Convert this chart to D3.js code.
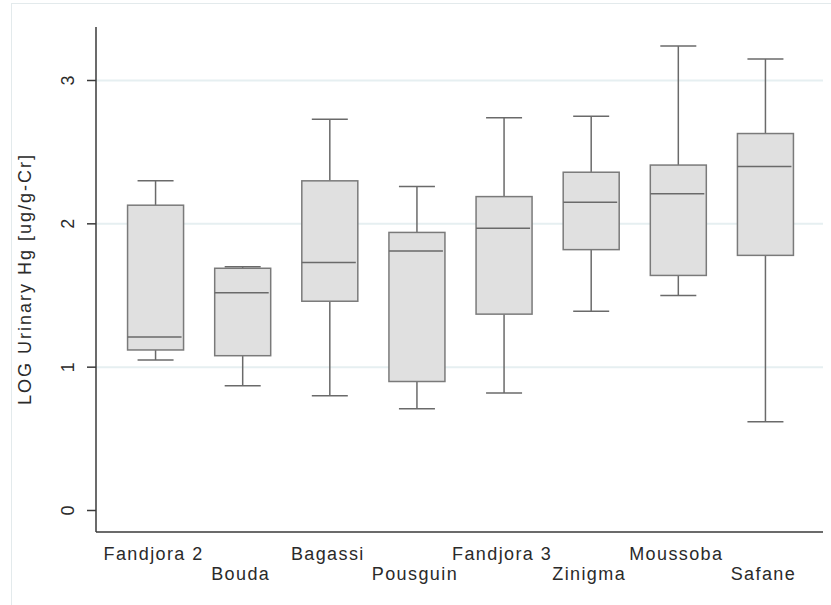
<!DOCTYPE html>
<html>
<head>
<meta charset="utf-8">
<script src="https://cdn.jsdelivr.net/npm/d3@7"></script>
<style>
  html, body { margin: 0; padding: 0; background: #fff; }
  svg { display: block; }
  text { font-family: "Liberation Sans", Arial, sans-serif; fill: #2a2a2a; }
</style>
</head>
<body>
<svg id="chart" width="831" height="605"></svg>
<script>
// ---- data ----
const categories = ["Fandjora 2", "Bouda", "Bagassi", "Pousguin", "Fandjora 3", "Zinigma", "Moussoba", "Safane"];
const whiskerLow  = [1.05, 0.87, 0.80, 0.71, 0.82, 1.39, 1.50, 0.62];
const q1          = [1.12, 1.08, 1.46, 0.90, 1.37, 1.82, 1.64, 1.78];
const median      = [1.21, 1.52, 1.73, 1.81, 1.97, 2.15, 2.21, 2.40];
const q3          = [2.13, 1.69, 2.30, 1.94, 2.19, 2.36, 2.41, 2.63];
const whiskerHigh = [2.30, 1.70, 2.73, 2.26, 2.74, 2.75, 3.24, 3.15];
const yTicks = [0, 1, 2, 3];
const yTitle = "LOG Urinary Hg [ug/g-Cr]";

(function () {
const rows = categories.map((c, i) => ({
  cat: c, lo: whiskerLow[i], q1: q1[i], med: median[i], q3: q3[i], hi: whiskerHigh[i], i
}));

const svg = d3.select("#chart");

// outer frame
svg.append("rect").attr("x", 11.5).attr("y", 3.5).attr("width", 840).attr("height", 620)
  .attr("fill", "none").attr("stroke", "#e3eaec").attr("stroke-width", 1);

const pLeft = 96, pRight = 823, pTop = 27, pBottom = 532;

const y = d3.scaleLinear().domain([0, 3]).range([510.5, 80.5]);
const x = d3.scaleBand().domain(categories).range([112, 809]).padding(0);
const boxW = 56, capW = 36;

// gridlines
svg.append("g").selectAll("line").data(yTicks.filter(t => t > 0)).join("line")
  .attr("x1", pLeft).attr("x2", pRight)
  .attr("y1", d => y(d)).attr("y2", d => y(d))
  .attr("stroke", "#e6eff1").attr("stroke-width", 2);

// boxes
const g = svg.append("g").selectAll("g").data(rows).join("g")
  .attr("transform", d => `translate(${x(d.cat) + x.bandwidth() / 2},0)`);

g.append("line").attr("x1", 0).attr("x2", 0)
  .attr("y1", d => y(d.q3)).attr("y2", d => y(d.hi))
  .attr("stroke", "#6a6a6a").attr("stroke-width", 1.5);
g.append("line").attr("x1", 0).attr("x2", 0)
  .attr("y1", d => y(d.q1)).attr("y2", d => y(d.lo))
  .attr("stroke", "#6a6a6a").attr("stroke-width", 1.5);
g.append("line").attr("x1", -capW / 2).attr("x2", capW / 2)
  .attr("y1", d => y(d.hi)).attr("y2", d => y(d.hi))
  .attr("stroke", "#6a6a6a").attr("stroke-width", 1.5);
g.append("line").attr("x1", -capW / 2).attr("x2", capW / 2)
  .attr("y1", d => y(d.lo)).attr("y2", d => y(d.lo))
  .attr("stroke", "#6a6a6a").attr("stroke-width", 1.5);
g.append("rect").attr("x", -boxW / 2).attr("width", boxW)
  .attr("y", d => y(d.q3)).attr("height", d => y(d.q1) - y(d.q3))
  .attr("fill", "#e0e0e0").attr("stroke", "#7a7a7a").attr("stroke-width", 1.5);
g.append("line").attr("x1", -boxW / 2).attr("x2", boxW / 2 - 2)
  .attr("y1", d => y(d.med)).attr("y2", d => y(d.med))
  .attr("stroke", "#6a6a6a").attr("stroke-width", 1.5);

// axes lines
svg.append("line").attr("x1", pLeft).attr("x2", pLeft).attr("y1", pTop).attr("y2", pBottom)
  .attr("stroke", "#3a3a3a").attr("stroke-width", 1.5);
svg.append("line").attr("x1", pLeft).attr("x2", pRight).attr("y1", pBottom).attr("y2", pBottom)
  .attr("stroke", "#3a3a3a").attr("stroke-width", 1.5);

// y ticks
const yt = svg.append("g").selectAll("g").data(yTicks).join("g");
yt.append("line").attr("x1", 87).attr("x2", pLeft).attr("y1", d => y(d)).attr("y2", d => y(d))
  .attr("stroke", "#3a3a3a").attr("stroke-width", 1.5);
yt.append("text")
  .attr("transform", d => `translate(74,${y(d)}) rotate(-90)`)
  .attr("text-anchor", "middle").attr("font-size", 18)
  .text(d => d3.format("d")(d));

// y title
svg.append("text")
  .attr("transform", "translate(31,279) rotate(-90)")
  .attr("text-anchor", "middle").attr("font-size", 18)
  .attr("letter-spacing", 2)
  .text(yTitle);

// x labels (staggered)
svg.append("g").selectAll("text").data(rows).join("text")
  .attr("x", d => x(d.cat) + x.bandwidth() / 2 - 2)
  .attr("y", d => d.i % 2 === 0 ? 560 : 580)
  .attr("text-anchor", "middle").attr("font-size", 18)
  .attr("letter-spacing", 1.4)
  .text(d => d.cat);
})();
</script>
</body>
</html>
